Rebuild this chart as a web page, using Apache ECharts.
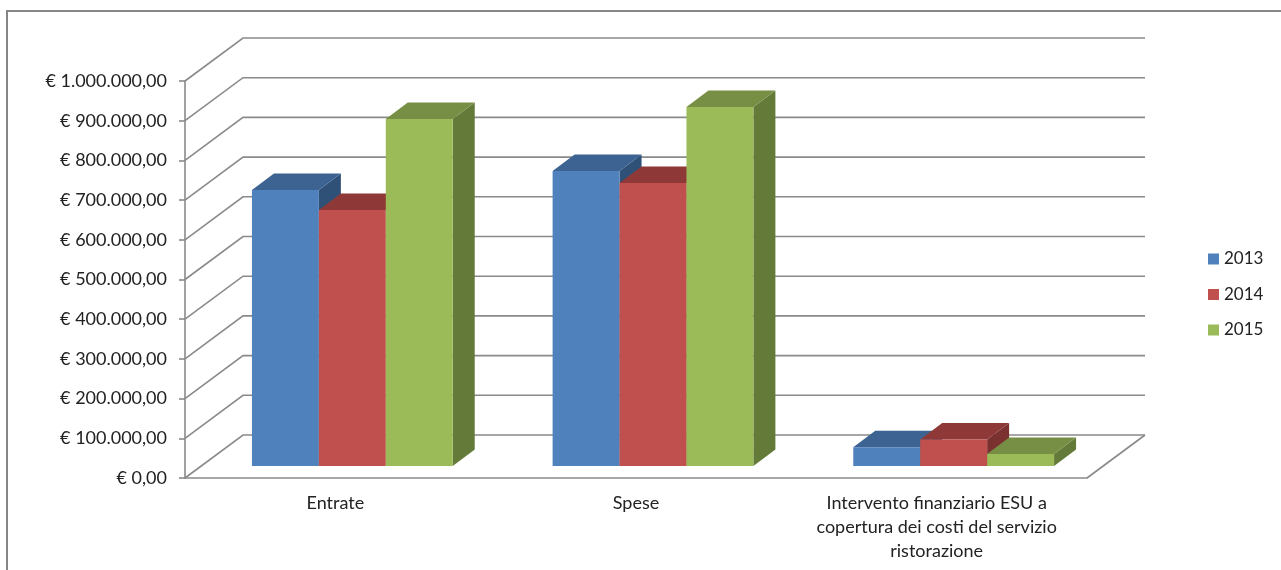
<!DOCTYPE html>
<html>
<head>
<meta charset="utf-8">
<title>Entrate e spese</title>
<style>html,body{margin:0;padding:0;background:#fff}#chart{width:1281px;height:570px}</style>
<script src="https://cdn.jsdelivr.net/npm/echarts@6/dist/echarts.min.js"></script>
</head>
<body>
<div id="chart"></div>
<script>
// Dati del grafico
const categories = ['Entrate', 'Spese', 'Intervento finanziario ESU a\ncopertura dei costi del servizio\nristorazione'];
const years = ['2013', '2014', '2015'];
const values2013 = [695000, 743000, 47000];
const values2014 = [645000, 713000, 67000];
const values2015 = [874000, 904000, 30000];
const yTicks = [0, 100000, 200000, 300000, 400000, 500000, 600000, 700000, 800000, 900000, 1000000];
const yTickLabels = ['€ 0,00', '€ 100.000,00', '€ 200.000,00', '€ 300.000,00', '€ 400.000,00', '€ 500.000,00',
  '€ 600.000,00', '€ 700.000,00', '€ 800.000,00', '€ 900.000,00', '€ 1.000.000,00'];

// Colori: fronte, faccia superiore, fianco
const palette = [
  { front: '#4F81BD', top: '#3C6391', side: '#2F5178' },
  { front: '#C0504D', top: '#8E3937', side: '#7A3130' },
  { front: '#9BBB59', top: '#768F44', side: '#647A39' }
];

// Proiezione obliqua: profondità delle pareti, piano delle barre, spessore delle barre
const wallDepth = [58, -43];
const barPlane = [17, -12];
const barDepth = [22, -16.5];
const barShare = 0.2226;
const lineColor = '#8A8A8A';

function renderWall(params, api) {
  const cs = params.coordSys;
  const v = api.value(0);
  const y = api.coord([0, v])[1];
  const x0 = cs.x, x1 = cs.x + cs.width;
  const style = { stroke: lineColor, lineWidth: 1.6, fill: 'none' };
  const children = [{
    type: 'polyline',
    shape: { points: [[x0, y], [x0 + wallDepth[0], y + wallDepth[1]], [x1 + wallDepth[0], y + wallDepth[1]]] },
    style
  }];
  if (v === 0) {
    children.push({
      type: 'line',
      shape: { x1, y1: y, x2: x1 + wallDepth[0], y2: y + wallDepth[1] },
      style
    });
  }
  return { type: 'group', children };
}

function barRenderer(seriesIdx) {
  const colors = palette[seriesIdx];
  return function (params, api) {
    const cat = api.value(0);
    const val = api.value(1);
    const band = api.size([1, 0])[0];
    const w = band * barShare;
    const c = api.coord([cat, val]);
    const b = api.coord([cat, 0]);
    const xl = c[0] + barPlane[0] + (seriesIdx - 1.5) * w;
    const xr = xl + w;
    const yt = c[1] + barPlane[1];
    const yb = b[1] + barPlane[1];
    const dx = barDepth[0], dy = barDepth[1];
    return {
      type: 'group',
      children: [
        { type: 'polygon', shape: { points: [[xr, yt], [xr + dx, yt + dy], [xr + dx, yb + dy], [xr, yb]] }, style: { fill: colors.side } },
        { type: 'polygon', shape: { points: [[xl, yt], [xl + dx, yt + dy], [xr + dx, yt + dy], [xr, yt]] }, style: { fill: colors.top } },
        { type: 'rect', shape: { x: xl, y: yt, width: w, height: yb - yt }, style: { fill: colors.front } }
      ]
    };
  };
}

const seriesValues = [values2013, values2014, values2015];
const fontFamily = 'Lato, "Open Sans", sans-serif';
const fontSize = 18;

const chart = echarts.init(document.getElementById('chart'), null, { renderer: 'canvas' });
chart.setOption({
  animation: false,
  backgroundColor: '#fff',
  graphic: [{
    type: 'rect',
    shape: { x: 7, y: 11, width: 1400, height: 700 },
    style: { fill: 'none', stroke: '#868686', lineWidth: 2 },
    silent: true
  }],
  grid: { left: 185, right: 194, top: 81, bottom: 92 },
  legend: {
    data: years,
    orient: 'vertical',
    left: 1203,
    top: 245,
    itemWidth: 11,
    itemHeight: 11,
    itemGap: 17.5,
    itemStyle: { borderWidth: 0 },
    icon: 'rect',
    selectedMode: false,
    textStyle: { fontFamily, fontSize: 17, color: '#222', lineHeight: 18 }
  },
  xAxis: {
    type: 'category',
    data: categories,
    axisLine: { lineStyle: { color: lineColor, width: 1.6 } },
    axisTick: { length: 6, lineStyle: { color: lineColor, width: 1.6 } },
    axisLabel: { fontFamily, fontSize, color: '#222', lineHeight: 24, margin: 13, interval: 0 },
    splitLine: { show: false }
  },
  yAxis: {
    type: 'value',
    min: 0,
    max: 1000000,
    interval: 100000,
    axisLine: { show: true, lineStyle: { color: lineColor, width: 1.6 } },
    axisTick: { show: true, length: 6, lineStyle: { color: lineColor, width: 1.6 } },
    axisLabel: {
      fontFamily, fontSize, color: '#222', margin: 18,
      formatter: (v) => yTickLabels[yTicks.indexOf(v)]
    },
    splitLine: { show: false }
  },
  series: [
    {
      name: 'pareti',
      type: 'custom',
      silent: true,
      z: 1,
      renderItem: renderWall,
      encode: { y: 0 },
      data: yTicks.map(v => [v])
    }
  ].concat(years.map((year, i) => ({
    name: year,
    type: 'custom',
    z: 2 + i,
    itemStyle: { color: palette[i].front },
    renderItem: barRenderer(i),
    encode: { x: 0, y: 1 },
    data: seriesValues[i].map((v, c) => [c, v])
  })))
});
</script>
</body>
</html>
